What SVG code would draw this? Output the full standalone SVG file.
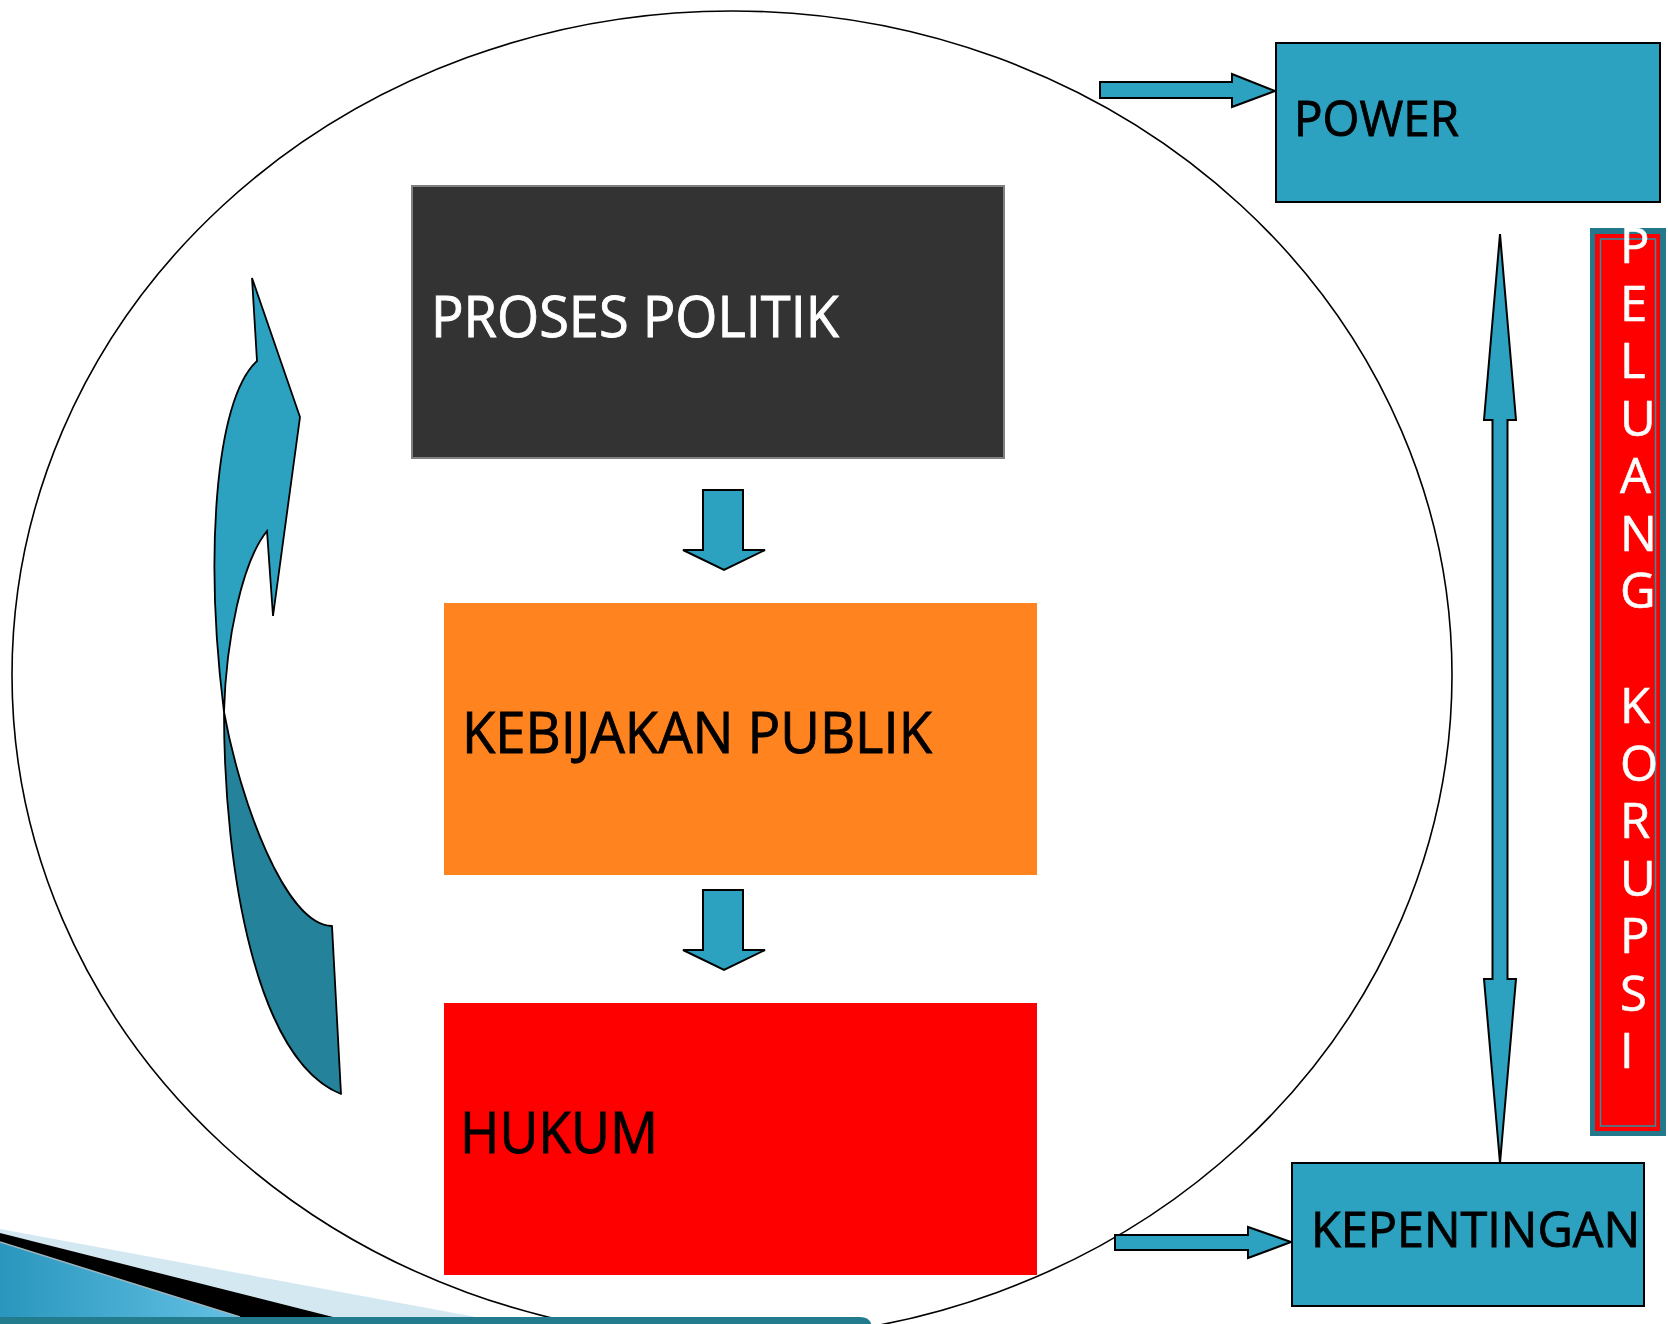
<svg xmlns="http://www.w3.org/2000/svg" width="1668" height="1324" viewBox="0 0 1668 1324">
  <defs>
    <linearGradient id="blueGrad" x1="0" y1="0" x2="1" y2="0">
      <stop offset="0" stop-color="#2A96BD"/>
      <stop offset="1" stop-color="#63C1E4"/>
    </linearGradient>
    <style>
      .lbl { font-family: "Open Sans", "Liberation Sans", sans-serif; stroke-width: 0.9; }
      .big { font-size: 56px; }
      .mid { font-size: 49px; }
      .dark { fill: #000; stroke: #000; }
      .light { fill: #fff; stroke: #fff; }
      .teal { fill: #2CA2C0; stroke: #000; stroke-width: 2; }
      .arrow { fill: #2CA2C0; stroke: #000; stroke-width: 2; stroke-linejoin: miter; }
      .vert { font-family: "Open Sans", "Liberation Sans", sans-serif; font-size: 49px; fill: #fff; stroke: #fff; stroke-width: 0.6; }
    </style>
  </defs>
  <rect width="1668" height="1324" fill="#fff"/>

  <!-- big ellipse -->
  <ellipse id="circle" cx="732" cy="675" rx="720" ry="664" fill="none" stroke="#000" stroke-width="1.6"/>

  <!-- slide decoration bottom-left -->
  <g id="decoration">
    <polygon points="0,1229 476,1317 0,1317" fill="#D4E8F1"/>
    <polygon points="0,1233 333,1317 240,1317 0,1242" fill="#000"/>
    <polygon points="0,1242 240,1317 0,1317" fill="url(#blueGrad)"/>
    <line x1="0" y1="1242" x2="240" y2="1317" stroke="#9DB4BE" stroke-width="1.5"/>
    <path d="M0,1317 H860 Q872,1317 872,1329 V1324 H0 Z" fill="#237B8E"/>
  </g>

  <g id="connectors">
    <!-- curved arrow on the left -->
    <path d="M224,712 C224,870 256,1060 341,1094 L332,926 C285,925 240,800 224,712 Z" fill="#24839B" stroke="#000" stroke-width="1.8" stroke-linejoin="round"/>
    <path d="M252,278 L300,417 L273,616 L267,531 C242,562 226,640 224,712 C205,560 214,400 257,361 Z" fill="#2CA2C0" stroke="#000" stroke-width="1.8" stroke-linejoin="miter"/>
    <!-- down arrows -->
    <path class="arrow" d="M703,490 H743 V550 H765 L724,570 L683,550 H703 Z"/>
    <path class="arrow" d="M703,890 H743 V950 H765 L724,970 L683,950 H703 Z"/>
    <!-- arrow to POWER -->
    <path class="arrow" d="M1100,82 H1232 V74 L1275,91 L1232,107 V98 H1100 Z"/>
    <!-- arrow to KEPENTINGAN -->
    <path class="arrow" d="M1115,1235 H1248 V1227 L1291,1242 L1248,1258 V1250 H1115 Z"/>
    <!-- double vertical arrow -->
    <path class="arrow" d="M1500,234 L1516,420 H1507.5 V979 H1516 L1500,1163 L1484,979 H1492.5 V420 H1484 Z"/>
  </g>

  <g id="proses-politik">
    <rect x="412" y="186" width="592" height="272" fill="#333333" stroke="#808080" stroke-width="2"/>
    <text class="lbl big light" x="431" y="337" textLength="408" lengthAdjust="spacingAndGlyphs">PROSES POLITIK</text>
  </g>

  <g id="kebijakan-publik">
    <rect x="444" y="603" width="593" height="272" fill="#FF831F"/>
    <text class="lbl big dark" x="462" y="753" textLength="470" lengthAdjust="spacingAndGlyphs">KEBIJAKAN PUBLIK</text>
  </g>

  <g id="hukum">
    <rect x="444" y="1003" width="593" height="272" fill="#FF0000"/>
    <text class="lbl big dark" x="460" y="1153" textLength="198" lengthAdjust="spacingAndGlyphs">HUKUM</text>
  </g>

  <g id="power">
    <rect class="teal" x="1276" y="43" width="384" height="159"/>
    <text class="lbl mid dark" x="1294" y="136" textLength="165" lengthAdjust="spacingAndGlyphs">POWER</text>
  </g>

  <g id="kepentingan">
    <rect class="teal" x="1292" y="1163" width="352" height="143"/>
    <text class="lbl mid dark" x="1311" y="1247" textLength="329" lengthAdjust="spacingAndGlyphs">KEPENTINGAN</text>
  </g>

  <g id="peluang-korupsi">
    <rect x="1590" y="228" width="76" height="908" fill="#23788B"/>
    <rect x="1595" y="234" width="65" height="897" fill="#FF0000"/>
    <rect x="1600.5" y="239" width="55" height="887" fill="#FF0000" stroke="#2E8FA5" stroke-width="1.5"/>
    <text class="vert">
      <tspan x="1620" y="263">P</tspan>
      <tspan x="1620" y="320.5">E</tspan>
      <tspan x="1620" y="378">L</tspan>
      <tspan x="1620" y="435.5">U</tspan>
      <tspan x="1620" y="493">A</tspan>
      <tspan x="1620" y="550.5">N</tspan>
      <tspan x="1620" y="608">G</tspan>
      <tspan x="1620" y="723">K</tspan>
      <tspan x="1620" y="780.5">O</tspan>
      <tspan x="1620" y="838">R</tspan>
      <tspan x="1620" y="895.5">U</tspan>
      <tspan x="1620" y="953">P</tspan>
      <tspan x="1620" y="1010.5">S</tspan>
      <tspan x="1620" y="1068">I</tspan>
    </text>
  </g>
</svg>
